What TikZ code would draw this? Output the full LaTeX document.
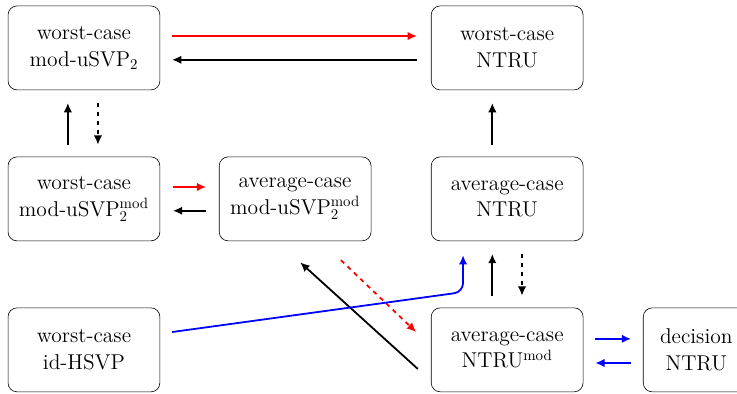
\documentclass[tikz,border=0pt]{standalone}
\usepackage{tikz}
\usetikzlibrary{arrows.meta, positioning, calc}
\usepackage{amsmath, amssymb}

\begin{document}
\begin{tikzpicture}[
    prob/.style={draw, rounded corners=6pt, minimum width=3.58cm, minimum height=1.98cm, align=center, font=\Large},
    link/.style={-{Latex[length=2.2mm, width=2mm]}, line width=1.2pt}
  ]
  \useasboundingbox (0, 0) rectangle (17.38, -9.29);
  \clip (0, 0) rectangle (17.38, -9.29);

  % Top row
  \node[prob] (wcsvp) at (1.98, -1.13) {worst-case\\mod-uSVP$_2$};
  \node[prob] (wcntru) at (11.96, -1.13) {worst-case\\NTRU};

  % Middle row
  \node[prob] (wcsvpmod) at (1.98, -4.69) {worst-case\\mod-uSVP$_2^{\mathrm{mod}}$};
  \node[prob] (acsvpmod) at (6.96, -4.69) {average-case\\mod-uSVP$_2^{\mathrm{mod}}$};
  \node[prob] (acntru) at (11.96, -4.69) {average-case\\NTRU};

  % Bottom row
  \node[prob] (hsvp) at (1.98, -8.25) {worst-case\\id-HSVP};
  \node[prob] (acntrumod) at (11.96, -8.25) {average-case\\NTRU$^{\mathrm{mod}}$};
  \node[prob, minimum width=2.5cm] (dntru) at (16.42, -8.25) {decision\\NTRU};

  % Top row arrows
  \draw[link, red] ([xshift=.28cm, yshift=.28cm]wcsvp.east) -- ([xshift=-.33cm, yshift=.28cm]wcntru.west);
  \draw[link] ([xshift=-.33cm, yshift=-.28cm]wcntru.west) -- ([xshift=.28cm, yshift=-.28cm]wcsvp.east);

  % Vertical arrows on the left
  \draw[link] ([xshift=-.38cm, yshift=.28cm]wcsvpmod.north) -- ([xshift=-.38cm, yshift=-.3cm]wcsvp.south);
  \draw[link, dashed] ([xshift=.33cm, yshift=-.3cm]wcsvp.south) -- ([xshift=.33cm, yshift=.28cm]wcsvpmod.north);

  % Vertical arrows on the right
  \draw[link] ([xshift=-.35cm, yshift=.28cm]acntru.north) -- ([xshift=-.35cm, yshift=-.3cm]wcntru.south);
  \draw[link] ([xshift=-.35cm, yshift=.28cm]acntrumod.north) -- ([xshift=-.35cm, yshift=-.3cm]acntru.south);
  \draw[link, dashed] ([xshift=.35cm, yshift=-.3cm]acntru.south) -- ([xshift=.35cm, yshift=.28cm]acntrumod.north);

  % Middle row arrows
  \draw[link, red] ([xshift=.3cm, yshift=.28cm]wcsvpmod.east) -- ([xshift=-.3cm, yshift=.28cm]acsvpmod.west);
  \draw[link] ([xshift=-.3cm, yshift=-.28cm]acsvpmod.west) -- ([xshift=.3cm, yshift=-.28cm]wcsvpmod.east);

  % Diagonal arrows
  \draw[link] ([xshift=-.31cm, yshift=-.45cm]acntrumod.west) -- ([xshift=.12cm, yshift=-.5cm]acsvpmod.south);
  \draw[link, red, dashed] ([xshift=1.08cm, yshift=-.45cm]acsvpmod.south) -- ([xshift=-.35cm, yshift=.42cm]acntrumod.west);

  % id-HSVP to average-case NTRU
  \draw[link, blue, rounded corners=6pt] ([xshift=.28cm, yshift=.42cm]hsvp.east) -- ([xshift=-1.04cm, yshift=-1.2cm]acntru.south) -- ([xshift=-1.04cm, yshift=-.33cm]acntru.south);

  % Decision arrows
  \draw[link, blue] ([xshift=.28cm, yshift=.26cm]acntrumod.east) -- ([xshift=-.28cm, yshift=.26cm]dntru.west);
  \draw[link, blue] ([xshift=-.28cm, yshift=-.31cm]dntru.west) -- ([xshift=.28cm, yshift=-.31cm]acntrumod.east);
\end{tikzpicture}
\end{document}
